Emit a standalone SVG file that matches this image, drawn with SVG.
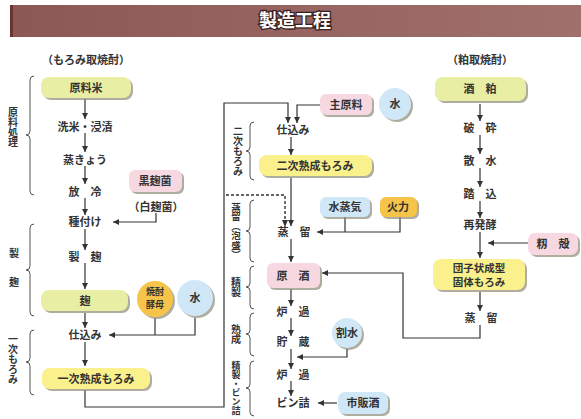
<svg xmlns="http://www.w3.org/2000/svg" width="581" height="419" viewBox="0 0 581 419">
<defs>
<marker id="ah" markerWidth="6" markerHeight="6" refX="6" refY="3" orient="auto" markerUnits="userSpaceOnUse"><path d="M0,0 L6,3 L0,6 z" fill="#333"/></marker>
<linearGradient id="hdr" x1="0" y1="0" x2="1" y2="0"><stop offset="0" stop-color="#8c5856"/><stop offset="1" stop-color="#a0706c"/></linearGradient>
</defs>
<style>
text{font-family:"Noto Sans CJK JP","Noto Sans CJK SC",sans-serif;font-weight:bold;fill:#333;font-size:11px}
.c{text-anchor:middle}
.v{writing-mode:vertical-rl;text-anchor:middle;font-size:10px}
.ln{fill:none;stroke:#333;stroke-width:1.2}
.ar{fill:none;stroke:#333;stroke-width:1.2;marker-end:url(#ah)}
.da{fill:none;stroke:#333;stroke-width:1.4;stroke-dasharray:3 2}
.br{fill:none;stroke:#555;stroke-width:1}
.sh{fill:#8d8a78;opacity:0.7}
.yg{fill:#e8eea3}
.ye{fill:#fbf18c}
.pk{fill:#f7d8e0}
.bl{fill:#cfe7f6}
.or{fill:#f6c448}
</style>
<rect x="0" y="0" width="581" height="419" fill="#ffffff"/>
<g id="header">
<rect x="10" y="5" width="571" height="32" fill="url(#hdr)"/>
<rect x="10" y="5" width="3" height="32" fill="#6a3432"/>
<text x="295" y="27" class="c" style="font-size:18px;fill:#fff;stroke:#3a2020;stroke-width:2.5;paint-order:stroke">製造工程</text>
</g>
<g id="titles">
<text x="86" y="64" class="c">（もろみ取焼酎）</text>
<text x="480" y="64" class="c">（粕取焼酎）</text>
</g>
<g id="brackets">
<path class="br" d="M34,76 Q30,76 30,80 L30,131 Q30,135 26,135 Q30,135 30,139 L30,191 Q30,195 34,195"/>
<text x="13" y="127" class="v">原料処理</text>
<path class="br" d="M34,224 Q30,224 30,228 L30,266 Q30,270 26,270 Q30,270 30,274 L30,312 Q30,316 34,316"/>
<text x="14" y="257" class="c" style="font-size:10px">製</text>
<text x="14" y="286" class="c" style="font-size:10px">麹</text>
<path class="br" d="M34,330 Q30,330 30,334 L30,358 Q30,362 26,362 Q30,362 30,366 L30,391 Q30,395 34,395"/>
<text x="13" y="359" class="v">一次もろみ</text>
<path class="br" d="M254,122 Q250,122 250,126 L250,147 Q250,151 246,151 Q250,151 250,155 L250,176 Q250,180 254,180"/>
<text x="238" y="151" class="v">二次もろみ</text>
<path class="br" d="M254,200 Q250,200 250,204 L250,227 Q250,231 246,231 Q250,231 250,235 L250,258 Q250,262 254,262"/>
<text x="236" y="231" class="v" style="font-size:9.5px">蒸留（泡盛）</text>
<path class="br" d="M254,266 Q250,266 250,270 L250,283 Q250,287 246,287 Q250,287 250,291 L250,305 Q250,309 254,309"/>
<text x="236" y="287" class="v">精製</text>
<path class="br" d="M254,313 Q250,313 250,317 L250,330 Q250,334 246,334 Q250,334 250,338 L250,352 Q250,356 254,356"/>
<text x="236" y="334" class="v">熟成</text>
<path class="br" d="M254,361 Q250,361 250,365 L250,384 Q250,388 246,388 Q250,388 250,392 L250,412 Q250,416 254,416"/>
<text x="236" y="388" class="v" style="font-size:9px">精製・ビン詰</text>
</g>
<g id="connectors">
<path class="ar" d="M85,99 V119"/>
<path class="ar" d="M85,133 V152"/>
<path class="ar" d="M85,166 V184"/>
<path class="ar" d="M85,198 V215"/>
<path class="ar" d="M85,229 V250"/>
<path class="ar" d="M85,263 V289"/>
<path class="ar" d="M85,313 V328"/>
<path class="ar" d="M85,342 V366"/>
<path class="ar" d="M156,213 V222 H113"/>
<path class="ln" d="M155,318 V335"/>
<path class="ar" d="M195,318 V335 H109"/>
<path class="ar" d="M85,390 V407 H224 V103 H288 V123"/>
<path class="ar" d="M320,105 H297 V123"/>
<path class="ar" d="M291,137 V155"/>
<path class="ar" d="M291,178 V226"/>
<path class="da" d="M226,195 H285 V220"/>
<path d="M282,220 L285,227 L288,220 z" fill="#333"/>
<path class="ln" d="M345,217 V232"/>
<path class="ar" d="M400,217 V232 H317"/>
<path class="ar" d="M291,239 V262"/>
<path class="ar" d="M291,289 V306"/>
<path class="ar" d="M291,318 V336"/>
<path class="ar" d="M291,349 V369"/>
<path class="ar" d="M347,349 V357 H297"/>
<path class="ar" d="M291,381 V396"/>
<path class="ar" d="M337,403 H318"/>
<path class="ar" d="M480,104 V121"/>
<path class="ar" d="M480,135 V154"/>
<path class="ar" d="M480,168 V187"/>
<path class="ar" d="M480,201 V218"/>
<path class="ar" d="M480,232 V258"/>
<path class="ar" d="M528,243 H488"/>
<path class="ar" d="M480,292 V311"/>
<path class="ar" d="M480,325 V338 H403 V273 H322"/>
</g>
<g id="n-genryomai">
<rect x="43" y="79" width="90" height="21" rx="8" class="sh"/>
<rect x="41" y="77" width="90" height="21" rx="8" class="yg"/>
<text x="86" y="92" class="c">原料米</text>
</g>
<g id="n-senmai"><text x="85" y="131" class="c">洗米・浸漬</text></g>
<g id="n-mushi"><text x="85" y="164" class="c">蒸きょう</text></g>
<g id="n-horei"><text x="85" y="196" class="c">放　冷</text></g>
<g id="n-kurokoji">
<rect x="131" y="172" width="53" height="22" rx="6" class="sh"/>
<rect x="129" y="170" width="53" height="22" rx="6" class="pk"/>
<text x="155" y="185" class="c">黒麹菌</text>
<text x="156" y="211" class="c">（白麹菌）</text>
</g>
<g id="n-tanetsuke"><text x="85" y="226" class="c">種付け</text></g>
<g id="n-seikiku"><text x="85" y="261" class="c">製　麹</text></g>
<g id="n-koji">
<rect x="43" y="292" width="87" height="21" rx="8" class="sh"/>
<rect x="41" y="290" width="87" height="21" rx="8" class="yg"/>
<text x="85" y="305" class="c">麹</text>
</g>
<g id="n-kobo">
<circle cx="157" cy="301" r="18" class="sh"/>
<circle cx="155" cy="299" r="18" class="or"/>
<text x="155" y="295" class="c" style="font-size:9px">焼酎</text>
<text x="155" y="308" class="c" style="font-size:9px">酵母</text>
</g>
<g id="n-mizu1">
<circle cx="197" cy="300" r="18" class="sh"/>
<circle cx="195" cy="298" r="18" class="bl"/>
<text x="195" y="302" class="c">水</text>
</g>
<g id="n-shikomi1"><text x="85" y="339" class="c">仕込み</text></g>
<g id="n-ichiji">
<rect x="44" y="370" width="108" height="21" rx="8" class="sh"/>
<rect x="42" y="368" width="108" height="21" rx="8" class="ye"/>
<text x="96" y="383" class="c">一次熟成もろみ</text>
</g>
<g id="n-shugenryo">
<rect x="322" y="96" width="52" height="21" rx="6" class="sh"/>
<rect x="320" y="94" width="52" height="21" rx="6" class="pk"/>
<text x="346" y="109" class="c">主原料</text>
</g>
<g id="n-mizu2">
<circle cx="397" cy="106" r="16" class="sh"/>
<circle cx="395" cy="104" r="16" class="bl"/>
<text x="395" y="108" class="c">水</text>
</g>
<g id="n-shikomi2"><text x="293" y="134" class="c">仕込み</text></g>
<g id="n-niji">
<rect x="261" y="157" width="113" height="21" rx="8" class="sh"/>
<rect x="259" y="155" width="113" height="21" rx="8" class="ye"/>
<text x="315" y="170" class="c">二次熟成もろみ</text>
</g>
<g id="n-suijoki">
<rect x="322" y="199" width="50" height="20" rx="6" class="sh"/>
<rect x="320" y="197" width="50" height="20" rx="6" class="bl"/>
<text x="345" y="211" class="c">水蒸気</text>
</g>
<g id="n-karyoku">
<rect x="382" y="199" width="37" height="20" rx="6" class="sh"/>
<rect x="380" y="197" width="37" height="20" rx="6" class="or"/>
<text x="398" y="211" class="c">火力</text>
</g>
<g id="n-joryu1"><text x="294" y="236" class="c">蒸　留</text></g>
<g id="n-genshu">
<rect x="269" y="265" width="53" height="25" rx="6" class="sh"/>
<rect x="267" y="263" width="53" height="25" rx="6" class="pk"/>
<text x="293" y="280" class="c">原　酒</text>
</g>
<g id="n-roka1"><text x="293" y="316" class="c">炉　過</text></g>
<g id="n-chozo"><text x="293" y="346" class="c">貯　蔵</text></g>
<g id="n-warimizu">
<circle cx="349" cy="335" r="15" class="sh"/>
<circle cx="347" cy="333" r="15" class="bl"/>
<text x="347" y="337" class="c">割水</text>
</g>
<g id="n-roka2"><text x="293" y="379" class="c">炉　過</text></g>
<g id="n-binzume"><text x="293" y="407" class="c">ビン詰</text></g>
<g id="n-shihanshu">
<rect x="340" y="394" width="50" height="22" rx="7" class="sh"/>
<rect x="338" y="392" width="50" height="22" rx="7" class="bl"/>
<text x="363" y="407" class="c">市販酒</text>
</g>
<g id="n-sakekasu">
<rect x="437" y="79" width="91" height="24" rx="8" class="sh"/>
<rect x="435" y="77" width="91" height="24" rx="8" class="yg"/>
<text x="480" y="93" class="c">酒　粕</text>
</g>
<g id="n-hasai"><text x="480" y="132" class="c">破　砕</text></g>
<g id="n-sansui"><text x="480" y="165" class="c">散　水</text></g>
<g id="n-fumikomi"><text x="480" y="198" class="c">踏　込</text></g>
<g id="n-hakko"><text x="480" y="229" class="c">再発酵</text></g>
<g id="n-momigara">
<rect x="530" y="235" width="50" height="22" rx="7" class="sh"/>
<rect x="528" y="233" width="50" height="22" rx="7" class="pk"/>
<text x="553" y="248" class="c">籾　殻</text>
</g>
<g id="n-dango">
<rect x="435" y="261" width="92" height="31" rx="8" class="sh"/>
<rect x="433" y="259" width="92" height="31" rx="8" class="ye"/>
<text x="479" y="272" class="c" style="font-size:10.5px">団子状成型</text>
<text x="479" y="286" class="c" style="font-size:10.5px">固体もろみ</text>
</g>
<g id="n-joryu2"><text x="481" y="322" class="c">蒸　留</text></g>
</svg>
